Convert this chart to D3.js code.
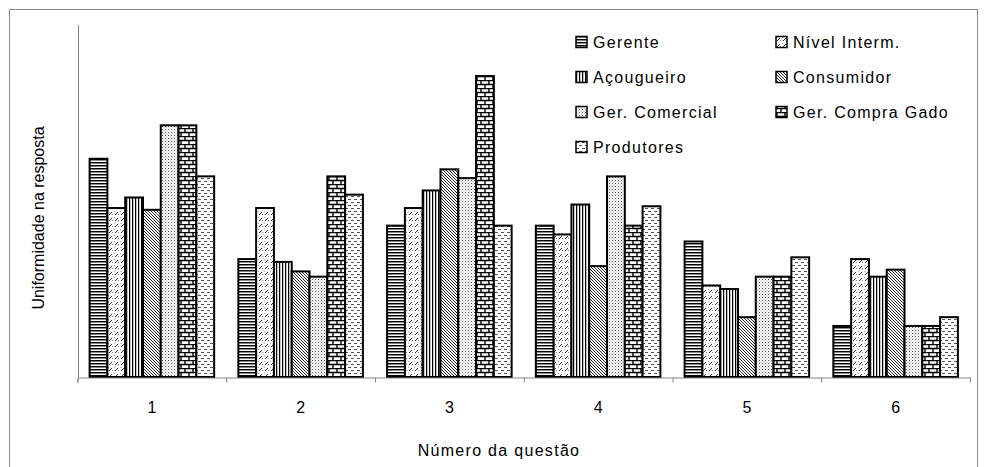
<!DOCTYPE html>
<html>
<head>
<meta charset="utf-8">
<script src="https://cdn.jsdelivr.net/npm/d3@7"></script>
<style>
  body { margin: 0; background: #fff; }
  text { font-family: "Liberation Sans", Arial, sans-serif; fill: #000; }
</style>
</head>
<body>
<div id="chart"></div>
<script>
// questions on the x axis
var questions = ["1", "2", "3", "4", "5", "6"];
var groups = ["Gerente", "Nível Interm.", "Açougueiro", "Consumidor",
  "Ger. Comercial", "Ger. Compra Gado", "Produtores"];

// uniformity per group, one value per question
var gerente       = [0.62, 0.335, 0.43, 0.43, 0.385, 0.145];
var nivelInterm   = [0.48, 0.48, 0.48, 0.405, 0.26, 0.335];
var acougueiro    = [0.51, 0.327, 0.53, 0.49, 0.25, 0.285];
var consumidor    = [0.475, 0.30, 0.59, 0.315, 0.17, 0.305];
var gerComercial  = [0.715, 0.285, 0.565, 0.57, 0.285, 0.145];
var gerCompraGado = [0.715, 0.57, 0.855, 0.43, 0.285, 0.145];
var produtores    = [0.57, 0.518, 0.43, 0.485, 0.34, 0.17];

var series = [gerente, nivelInterm, acougueiro, consumidor,
  gerComercial, gerCompraGado, produtores];

var width = 986, height = 467;
var plot = { left: 77.5, right: 970, top: 25, bottom: 377 };

var svg = d3.select("#chart").append("svg")
  .attr("width", width)
  .attr("height", height);

var defs = svg.append("defs");

// pattern fills, black on white, similar to the excel ones
function pattern(id, w, h) {
  var p = defs.append("pattern")
    .attr("id", id)
    .attr("patternUnits", "userSpaceOnUse")
    .attr("width", w)
    .attr("height", h);
  p.append("rect").attr("width", w).attr("height", h).attr("fill", "#fff");
  return p;
}

var p0 = pattern("pGerente", 4, 3);
p0.append("rect").attr("width", 4).attr("height", 1).attr("fill", "#000");
p0.append("rect").attr("y", 1).attr("width", 4).attr("height", 1).attr("fill", "#888");

var p1 = pattern("pNivel", 6, 6);
p1.append("path").attr("d", "M1,5L4,2").attr("stroke", "#333").attr("stroke-width", 1);
p1.append("rect").attr("x", 4).attr("y", 4).attr("width", 1).attr("height", 1).attr("fill", "#888");
p1.append("rect").attr("x", 0).attr("y", 1).attr("width", 1).attr("height", 1).attr("fill", "#aaa");

var p2 = pattern("pAcougueiro", 3, 4);
p2.append("rect").attr("width", 1).attr("height", 4).attr("fill", "#000");
p2.append("rect").attr("x", 1).attr("width", 0.6).attr("height", 4).attr("fill", "#999");

var p3 = pattern("pConsumidor", 3, 3);
p3.append("path").attr("d", "M0,0L3,3M-1,2L1,4M2,-1L4,1")
  .attr("stroke", "#222").attr("stroke-width", 1);

var p4 = pattern("pComercial", 3, 3);
p4.append("rect").attr("width", 1).attr("height", 1).attr("fill", "#555");
p4.append("rect").attr("x", 1.5).attr("y", 1.5).attr("width", 1).attr("height", 1).attr("fill", "#999");

var p5 = pattern("pCompraGado", 8, 8);
p5.append("path").attr("d", "M0,0.5H8M0,4.5H8M1,0V4.5M5,4.5V8")
  .attr("stroke", "#000").attr("stroke-width", 1.4);

var p6 = pattern("pProdutores", 6, 6);
p6.append("rect").attr("x", 0).attr("y", 1).attr("width", 3).attr("height", 1).attr("fill", "#555");
p6.append("rect").attr("x", 3).attr("y", 4).attr("width", 3).attr("height", 1).attr("fill", "#555");

var fills = ["pGerente", "pNivel", "pAcougueiro", "pConsumidor",
  "pComercial", "pCompraGado", "pProdutores"];

// outer frame
svg.append("rect")
  .attr("x", 9.5).attr("y", 9.5)
  .attr("width", 968).attr("height", 470)
  .attr("fill", "none")
  .attr("stroke", "#8c8c8c");

var x = d3.scaleBand()
  .domain(questions)
  .range([plot.left, plot.right]);

var xInner = d3.scaleBand()
  .domain(d3.range(groups.length))
  .range([0, x.bandwidth()])
  .paddingOuter(0.68);

var y = d3.scaleLinear()
  .domain([0, 1])
  .range([plot.bottom, plot.top]);

// bars
var rows = [];
questions.forEach(function(q, qi) {
  series.forEach(function(s, si) {
    rows.push({ q: q, s: si, value: s[qi] });
  });
});

svg.append("g")
  .selectAll("rect")
  .data(rows)
  .enter().append("rect")
  .attr("x", function(d) { return x(d.q) + xInner(d.s); })
  .attr("y", function(d) { return y(d.value); })
  .attr("width", xInner.bandwidth())
  .attr("height", function(d) { return y(0) - y(d.value); })
  .attr("fill", function(d) { return "url(#" + fills[d.s] + ")"; })
  .attr("stroke", "#000")
  .attr("stroke-width", 2);

// y axis, no ticks
svg.append("line")
  .attr("x1", 78.5).attr("x2", 78.5)
  .attr("y1", plot.top).attr("y2", plot.bottom)
  .attr("stroke", "#868686");

// x axis: tick marks between questions
var xTicks = d3.scaleLinear().domain([0, questions.length]).range([plot.left, plot.right]);
var tickAxis = svg.append("g")
  .attr("transform", "translate(0," + (plot.bottom + 0.5) + ")")
  .call(d3.axisBottom(xTicks).ticks(questions.length).tickSize(5).tickSizeOuter(5).tickFormat(""));
tickAxis.selectAll("path, line").attr("stroke", "#868686");

var labelAxis = svg.append("g")
  .attr("transform", "translate(0,402)")
  .call(d3.axisBottom(x).tickSize(0).tickPadding(0));
labelAxis.select(".domain").remove();
labelAxis.selectAll("text")
  .style("font-family", "'Liberation Sans', Arial, sans-serif")
  .style("font-size", "16px")
  .attr("fill", "#000");

// axis titles
svg.append("text")
  .attr("x", 499)
  .attr("y", 456)
  .attr("text-anchor", "middle")
  .style("font-size", "16px")
  .style("letter-spacing", "1.3px")
  .text("Número da questão");

svg.append("text")
  .attr("transform", "translate(44,218) rotate(-90)")
  .attr("text-anchor", "middle")
  .style("font-size", "16px")
  .text("Uniformidade na resposta");

// legend, two columns
var legend = svg.append("g")
  .selectAll("g")
  .data(groups)
  .enter().append("g")
  .attr("transform", function(d, i) {
    var col = i % 2, row = Math.floor(i / 2);
    return "translate(" + (576 + col * 200) + "," + (42 + row * 35) + ")";
  });

legend.append("rect")
  .attr("x", 0).attr("y", -5.5)
  .attr("width", 11).attr("height", 11)
  .attr("fill", function(d, i) { return "url(#" + fills[i] + ")"; })
  .attr("stroke", "#000")
  .attr("stroke-width", 1.5);

legend.append("text")
  .attr("x", 17)
  .attr("y", 0)
  .attr("dy", "0.36em")
  .style("font-size", "16px")
  .style("letter-spacing", "1.3px")
  .text(function(d) { return d; });
</script>
</body>
</html>
